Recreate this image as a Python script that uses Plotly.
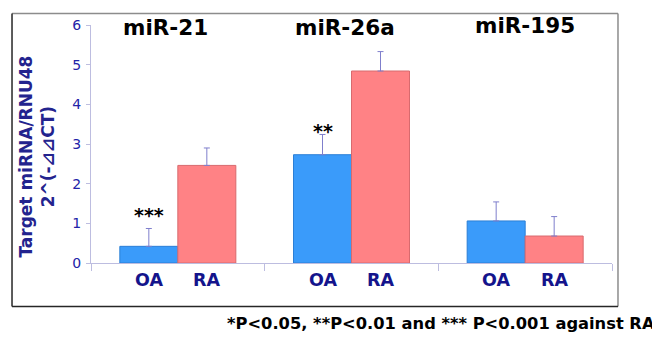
import plotly.graph_objects as go

groups = ["miR-21", "miR-26a", "miR-195"]
oa_values = [0.42, 2.73, 1.06]
ra_values = [2.46, 4.84, 0.68]
oa_err_top = [0.87, 3.24, 1.54]
ra_err_top = [2.90, 5.33, 1.17]
sig_labels = ["***", "**", ""]
sig_heights = [1.22, 3.32, 0]
y_ticks = [0, 1, 2, 3, 4, 5, 6]

x_pos = list(range(len(groups)))
bar_w = 0.334
off = bar_w / 2

navy = "#14148C"
axis_col = "#BDBDE0"
err_col = "#7F7FCC"
font_fam = "DejaVu Sans, Verdana, sans-serif"

fig = go.Figure()
fig.add_trace(go.Bar(
    x=[p - off for p in x_pos], y=oa_values, width=bar_w, name="OA",
    marker=dict(color="#3A9BFA", line=dict(color="#2B7FD6", width=1)),
    error_y=dict(type="data", symmetric=False,
                 array=[t - v for t, v in zip(oa_err_top, oa_values)],
                 arrayminus=[0] * 3, color=err_col, thickness=1, width=3),
))
fig.add_trace(go.Bar(
    x=[p + off for p in x_pos], y=ra_values, width=bar_w, name="RA",
    marker=dict(color="#FF8285", line=dict(color="#D86A6E", width=1)),
    error_y=dict(type="data", symmetric=False,
                 array=[t - v for t, v in zip(ra_err_top, ra_values)],
                 arrayminus=[0] * 3, color=err_col, thickness=1, width=3),
))

ann = []
title_x = [-0.07, 0.96, 2.0]
title_y = [0.99, 0.99, 1.0]
for g, tx, ty in zip(groups, title_x, title_y):
    ann.append(dict(x=tx, y=ty, xref="x", yref="paper", text=g, showarrow=False,
                    font=dict(family=font_fam, size=21.5, color="black", weight="bold"),
                    xanchor="center", yanchor="middle"))
for p in x_pos:
    for lab, dx in (("OA", -off), ("RA", off)):
        ann.append(dict(x=p + dx, y=-0.07, xref="x", yref="paper", text=lab, showarrow=False,
                        font=dict(family=font_fam, size=17.5, color=navy, weight="bold"),
                        xanchor="center", yanchor="middle"))
for p, s, h in zip(x_pos, sig_labels, sig_heights):
    if s:
        ann.append(dict(x=p - off, y=h, xref="x", yref="y", text=s, showarrow=False,
                        font=dict(family=font_fam, size=19, color="black", weight="bold"),
                        xanchor="center", yanchor="middle"))
ann.append(dict(x=0, y=0.447, xref="paper", yref="paper", xshift=-54,
                text="Target miRNA/RNU48<br>2^(-⊿⊿CT)", textangle=-90, showarrow=False,
                font=dict(family=font_fam, size=17, color="#23238E", weight="bold"),
                xanchor="center", yanchor="middle"))
ann.append(dict(x=1.0864, y=-0.256, xref="paper", yref="paper",
                text="*P<0.05, **P<0.01 and *** P<0.001 against RA", showarrow=False,
                font=dict(family=font_fam, size=16.3, color="black", weight="bold"),
                xanchor="right", yanchor="middle"))

fx0, fx1, fy0, fy1 = -0.1516, 1.0115, -0.183, 1.0488
frame = [
    dict(type="line", xref="paper", yref="paper", x0=fx0, x1=fx1, y0=fy1, y1=fy1,
         line=dict(color="#8C8C8C", width=1.5)),
    dict(type="line", xref="paper", yref="paper", x0=fx1, x1=fx1, y0=fy0, y1=fy1,
         line=dict(color="#8C8C8C", width=1.5)),
    dict(type="line", xref="paper", yref="paper", x0=fx0, x1=fx0, y0=fy0, y1=fy1,
         line=dict(color="#262626", width=1.5)),
    dict(type="line", xref="paper", yref="paper", x0=fx0, x1=fx1, y0=fy0, y1=fy0,
         line=dict(color="#262626", width=1.5)),
]

fig.update_layout(
    width=652, height=330,
    margin=dict(l=83, r=48, t=9, b=75),
    paper_bgcolor="white", plot_bgcolor="white",
    showlegend=False, barmode="overlay",
    annotations=ann,
    shapes=frame,
    xaxis=dict(range=[-0.5, 2.5], tickvals=[-0.5, 0.5, 1.5, 2.5], ticktext=["", "", "", ""],
               ticks="outside", ticklen=7, tickcolor=axis_col, showline=True, linecolor=axis_col,
               showgrid=False, zeroline=False, fixedrange=True),
    yaxis=dict(range=[0, 6], tickvals=y_ticks, ticks="outside", ticklen=4, tickcolor=axis_col,
               showline=True, linecolor=axis_col, showgrid=False, zeroline=False,
               tickfont=dict(family=font_fam, size=14, color="#2323A8"),
               ticklabelstandoff=2),
)

fig.write_html("out.html")
